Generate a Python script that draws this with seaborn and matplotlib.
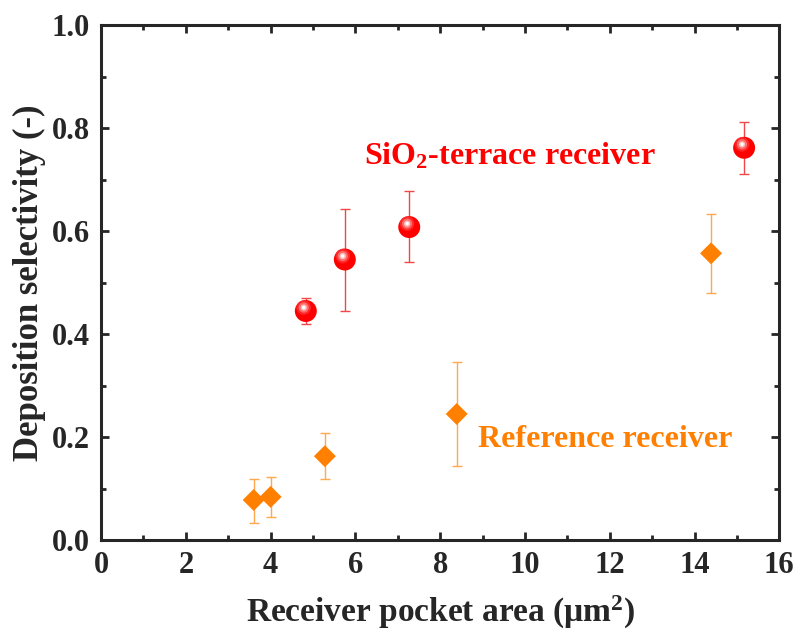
import numpy as np
import pandas as pd
import matplotlib
matplotlib.use("Agg")
import matplotlib.pyplot as plt
import matplotlib.transforms as mtransforms
from matplotlib.ticker import MultipleLocator, FormatStrFormatter
import seaborn as sns

# SiO2-terrace receiver
terrace_area = [4.83, 5.75, 7.27, 15.17]
terrace_sel = [0.445, 0.545, 0.608, 0.762]
terrace_lo = [0.42, 0.445, 0.540, 0.711]
terrace_hi = [0.47, 0.643, 0.678, 0.813]

# Reference receiver
ref_area = [3.6, 4.0, 5.28, 8.39, 14.39]
ref_sel = [0.078, 0.084, 0.163, 0.245, 0.557]
ref_lo = [0.034, 0.045, 0.118, 0.144, 0.480]
ref_hi = [0.119, 0.123, 0.208, 0.345, 0.633]

RED = "#ff0000"
ORANGE = "#ff8000"

sns.set_style("ticks")
plt.rcParams["font.family"] = ["Liberation Serif", "DejaVu Serif"]
plt.rcParams["font.weight"] = "bold"
plt.rcParams["mathtext.fontset"] = "custom"
plt.rcParams["mathtext.rm"] = "Liberation Serif:bold"
plt.rcParams["mathtext.it"] = "Liberation Serif:bold"
plt.rcParams["mathtext.bf"] = "Liberation Serif:bold"

df_t = pd.DataFrame({"area": terrace_area, "sel": terrace_sel})
df_r = pd.DataFrame({"area": ref_area, "sel": ref_sel})

fig = plt.figure(figsize=(7.96, 6.31), dpi=100)
ax = fig.add_axes([0.127, 0.144, 0.852, 0.816])

# error bars
t_err = [np.array(terrace_sel) - np.array(terrace_lo), np.array(terrace_hi) - np.array(terrace_sel)]
r_err = [np.array(ref_sel) - np.array(ref_lo), np.array(ref_hi) - np.array(ref_sel)]
ax.errorbar(terrace_area, terrace_sel, yerr=t_err, fmt="none", ecolor="#f04848",
            elinewidth=1.0, capsize=3.6, capthick=1.0, zorder=2)
ax.errorbar(ref_area, ref_sel, yerr=r_err, fmt="none", ecolor="#ffa850",
            elinewidth=1.0, capsize=3.6, capthick=1.0, zorder=2)

sns.scatterplot(data=df_r, x="area", y="sel", marker="D", s=125, color=ORANGE,
                edgecolor="none", ax=ax, zorder=3)
sns.scatterplot(data=df_t, x="area", y="sel", marker="o", s=250, color=RED,
                edgecolor="none", ax=ax, zorder=3)

# shading highlight for the sphere look
offset = mtransforms.ScaledTranslation(-1.5 / 72, 2.5 / 72, fig.dpi_scale_trans)
for s, c, a in [(110, "#ff3030", 0.8), (55, "#ff8080", 0.8), (20, "#ffc8c8", 0.9), (6, "white", 1.0)]:
    ax.scatter(terrace_area, terrace_sel, s=s, color=c, alpha=a, edgecolor="none",
               transform=ax.transData + offset, zorder=4)

ax.set_xlim(0, 16)
ax.set_ylim(0, 1.0)
ax.xaxis.set_major_locator(MultipleLocator(2))
ax.xaxis.set_minor_locator(MultipleLocator(1))
ax.yaxis.set_major_locator(MultipleLocator(0.2))
ax.yaxis.set_minor_locator(MultipleLocator(0.1))
ax.tick_params(which="both", direction="in", top=True, right=True, width=2.0)
ax.tick_params(which="major", length=6, labelsize=22, pad=8)
ax.tick_params(which="minor", length=3.5)
for sp in ax.spines.values():
    sp.set_linewidth(2.2)
ax.yaxis.set_major_formatter(FormatStrFormatter("%.1f"))

ax.set_xlabel(r"Receiver pocket area ($\mathrm{\mu}$m$^2$)", fontsize=24, fontweight="bold", labelpad=10)
ax.set_ylabel("Deposition selectivity (-)", fontsize=25, fontweight="bold", labelpad=4)

ax.text(6.2, 0.745, r"SiO$_2$-terrace receiver", color=RED, fontsize=23, fontweight="bold",
        ha="left", va="center")
ax.text(8.9, 0.195, "Reference receiver", color=ORANGE, fontsize=23, fontweight="bold",
        ha="left", va="center")

fig.savefig("out.png", dpi=100)
